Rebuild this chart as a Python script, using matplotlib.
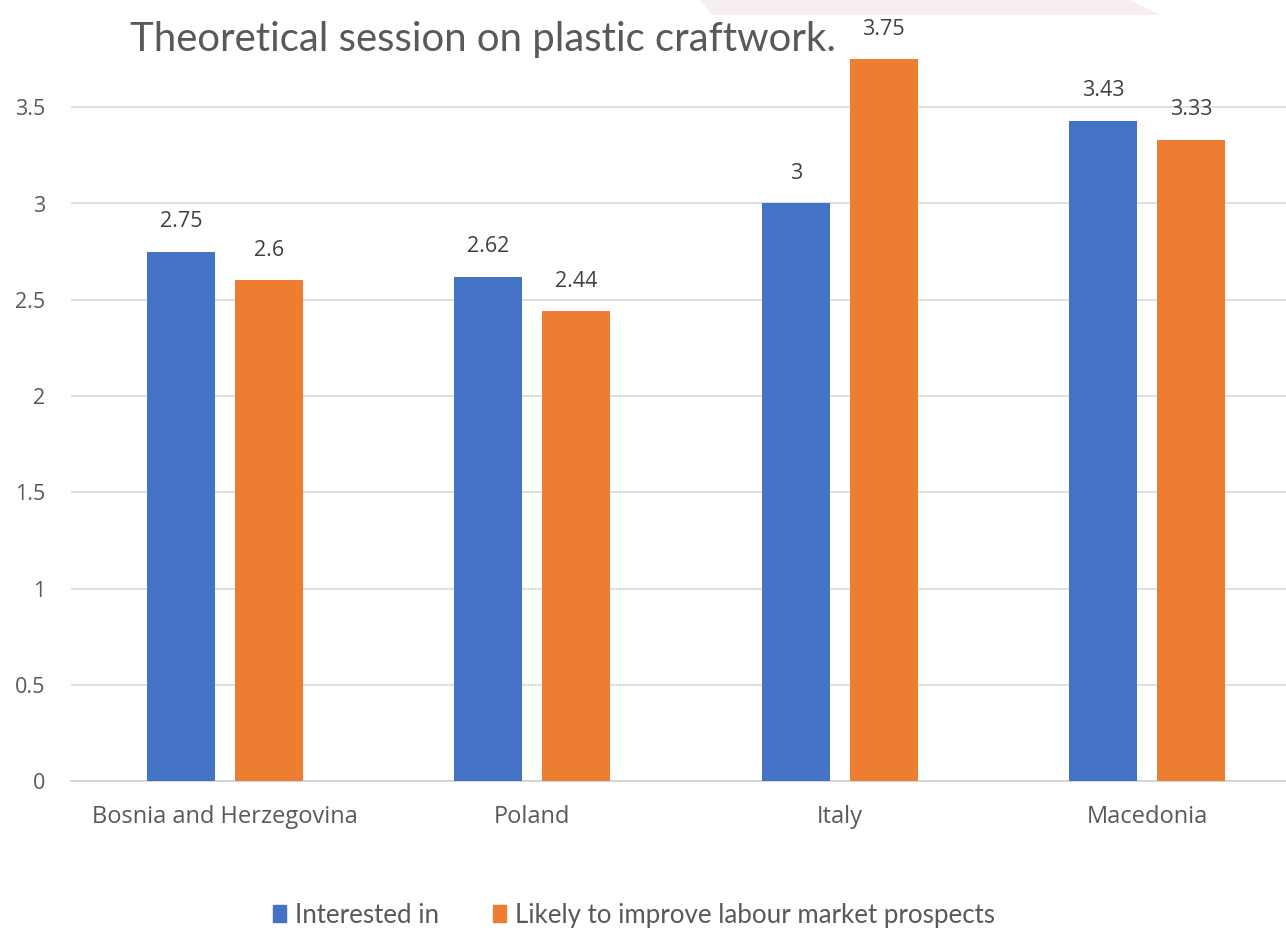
import matplotlib
matplotlib.use("Agg")
import matplotlib.pyplot as plt
import numpy as np
from matplotlib.patches import Polygon

plt.rcParams['font.family'] = ['Lato', 'DejaVu Sans']

categories = ["Bosnia and Herzegovina", "Poland", "Italy", "Macedonia"]
interested = [2.75, 2.62, 3.0, 3.43]
likely = [2.6, 2.44, 3.75, 3.33]
labels_int = ["2.75", "2.62", "3", "3.43"]
labels_lik = ["2.6", "2.44", "3.75", "3.33"]
series_names = ["Interested in", "Likely to improve labour market prospects"]
yticks = [0, 0.5, 1, 1.5, 2, 2.5, 3, 3.5]
ytick_labels = ["0", "0.5", "1", "1.5", "2", "2.5", "3", "3.5"]
title = "Theoretical session on plastic craftwork."

BLUE = "#4472C4"
ORANGE = "#ED7D31"
GRID = "#d9d9d9"
TXT = "#595959"
LBL_FONT = ['Open Sans', 'DejaVu Sans']

W, H = 1286, 930
fig = plt.figure(figsize=(W / 100, H / 100), dpi=100)

# faint decorative shape at top
fig.patches.append(Polygon([[700 / W, 1], [1130 / W, 1], [1160 / W, 1 - 15 / H], [712 / W, 1 - 15 / H]],
                           closed=True, transform=fig.transFigure, facecolor="#f6eef3",
                           edgecolor="none", zorder=0))

left, right = 71, 1301
bottom, top = 781, 11
ax = fig.add_axes([left / W, 1 - bottom / H, (right - left) / W, (bottom - top) / H])
ax.set_facecolor("none")

x = np.arange(len(categories))
w = 0.222
off = 0.143
b1 = ax.bar(x - off, interested, w, color=BLUE, zorder=3)
b2 = ax.bar(x + off, likely, w, color=ORANGE, zorder=3)

for bars, labs in ((b1, labels_int), (b2, labels_lik)):
    for rect, lab in zip(bars, labs):
        ax.annotate(lab, (rect.get_x() + rect.get_width() / 2, rect.get_height()),
                    xytext=(0, 21.6), textcoords="offset points", ha="center", va="center",
                    fontsize=15.5, color="#404040", family=LBL_FONT)

ax.set_xlim(-0.5, 3.5)
ax.set_ylim(0, 4)
ax.set_yticks(yticks)
ax.set_yticklabels(ytick_labels, family=LBL_FONT)
ax.set_xticks(x)
ax.set_xticklabels(categories, family=LBL_FONT)
ax.tick_params(axis="both", length=0, colors=TXT)
ax.tick_params(axis="y", pad=18.5, labelsize=15.5)
ax.tick_params(axis="x", pad=17.5, labelsize=17)
ax.yaxis.grid(True, color=GRID, linewidth=1.2, zorder=0)
ax.set_axisbelow(True)
for s in ["top", "right", "left"]:
    ax.spines[s].set_visible(False)
ax.spines["bottom"].set_color("#cfcfcf")
ax.spines["bottom"].set_linewidth(1.2)

fig.text(130 / W, 1 - 40 / H, title, fontsize=28.9, color=TXT, ha="left", va="center")

handles = [plt.Rectangle((0, 0), 1, 1, color=BLUE), plt.Rectangle((0, 0), 1, 1, color=ORANGE)]
fig.legend(handles, series_names, loc="center", bbox_to_anchor=(634 / W, 1 - 915 / H),
           ncol=2, frameon=False, fontsize=18.6, handlelength=0.5, handleheight=0.6,
           handletextpad=0.35, columnspacing=2.1, labelcolor=TXT)

fig.savefig("out.png", dpi=100)
